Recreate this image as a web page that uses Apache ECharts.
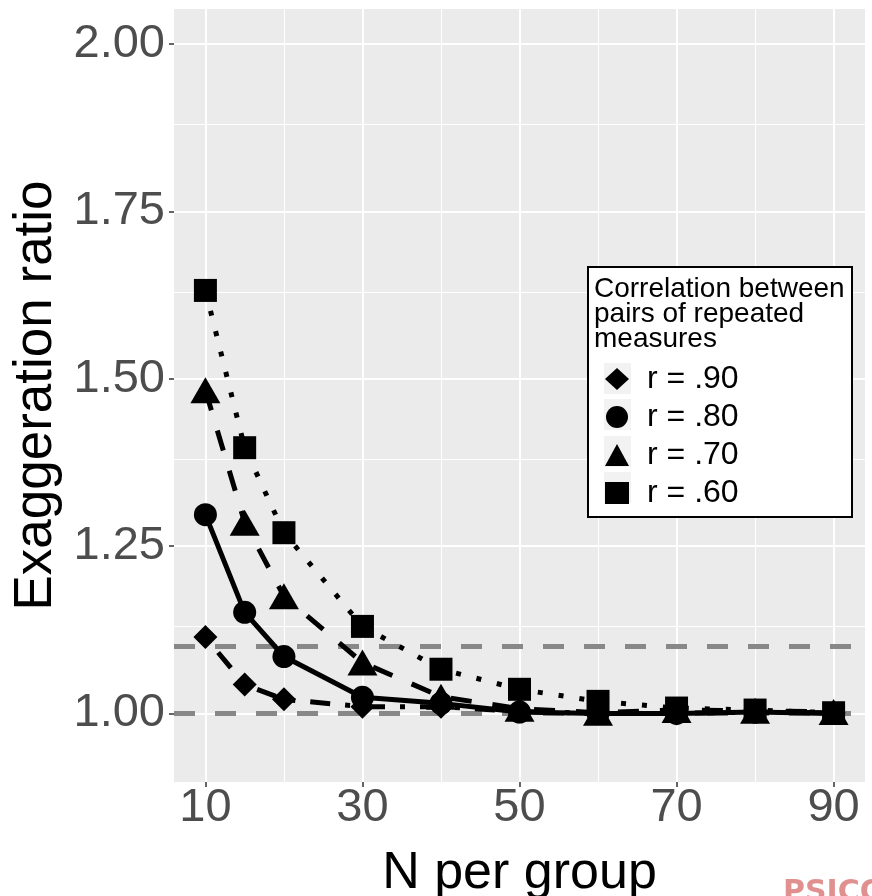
<!DOCTYPE html>
<html>
<head>
<meta charset="utf-8">
<style>
  html, body { margin: 0; padding: 0; background: #fff; }
  #chart { width: 872px; height: 896px; }
</style>
<script src="https://cdn.jsdelivr.net/npm/echarts@6/dist/echarts.min.js"></script>
</head>
<body>
<div id="chart"></div>
<script>
// N per group (x) and exaggeration ratio for each correlation level
const nGroup = [10, 15, 20, 30, 40, 50, 60, 70, 80, 90]
const r90 = [1.114, 1.043, 1.021, 1.010, 1.010, 1.003, 1.000, 1.000, 1.002, 1.001]
const r80 = [1.297, 1.151, 1.085, 1.024, 1.015, 1.002, 1.000, 1.000, 1.002, 1.000]
const r70 = [1.483, 1.285, 1.175, 1.076, 1.025, 1.007, 1.001, 1.005, 1.004, 1.002]
const r60 = [1.632, 1.397, 1.270, 1.130, 1.066, 1.036, 1.018, 1.008, 1.005, 1.001]
const seriesNames = ['r = .90', 'r = .80', 'r = .70', 'r = .60']

const xTicks = [10, 30, 50, 70, 90]
const xMinor = [20, 40, 60, 80]
const yTicks = [1.0, 1.25, 1.5, 1.75, 2.0]
const yMinor = [1.125, 1.375, 1.625, 1.875]
const refLines = [1.0, 1.1]

const legendTitle = 'Correlation between\npairs of repeated\nmeasures'

const FONT = '"Liberation Sans", Arial, sans-serif'

// marker + line type per series (ggplot: dotdash, solid, dashed, dotted)
const looks = [
  { symbol: 'diamond', size: 24, type: [5, 15, 20, 15], icon: 'diamond' },
  { symbol: 'circle', size: 23, type: 'solid', icon: 'circle' },
  { symbol: 'triangle', size: [30, 26], type: [21, 21], icon: 'triangle' },
  { symbol: 'rect', size: 23, type: [5, 16], icon: 'rect' },
]
const values = [r90, r80, r70, r60]

const pairs = (ys) => nGroup.map((n, i) => [n, ys[i]])

const chart = echarts.init(document.getElementById('chart'))

const gridLines = [
  ...xMinor.map((v) => ({ xAxis: v, lineStyle: { width: 1 } })),
  ...yMinor.map((v) => ({ yAxis: v, lineStyle: { width: 1 } })),
  ...xTicks.map((v) => ({ xAxis: v, lineStyle: { width: 2 } })),
  ...yTicks.map((v) => ({ yAxis: v, lineStyle: { width: 2 } })),
]

const dataSeries = seriesNames.map((name, i) => ({
  name, type: 'line', z: 5,
  data: pairs(values[i]),
  symbol: looks[i].symbol, symbolSize: looks[i].size,
  itemStyle: { color: '#000' },
  lineStyle: { color: '#000', width: 5, type: looks[i].type, cap: 'butt' },
  emphasis: { disabled: true },
}))

chart.setOption({
  animation: false,
  backgroundColor: '#fff',
  grid: { left: 174, right: 7, top: 9, bottom: 114, outerBoundsMode: 'none',
    show: true, backgroundColor: '#ebebeb', borderWidth: 0 },
  xAxis: {
    type: 'value', min: 6, max: 94,
    axisLine: { show: false },
    splitLine: { show: false },
    axisTick: { show: true, customValues: xTicks, length: 5, lineStyle: { color: '#333', width: 1.5 } },
    axisLabel: { customValues: xTicks, fontSize: 47, color: '#4d4d4d', fontFamily: FONT, margin: 3 },
    name: 'N per group', nameLocation: 'middle', nameGap: 66,
    nameTextStyle: { fontSize: 52, color: '#000', fontFamily: FONT },
  },
  yAxis: {
    type: 'value', min: 0.8975, max: 2.0525,
    axisLine: { show: false },
    splitLine: { show: false },
    axisTick: { show: true, customValues: yTicks, length: 5, lineStyle: { color: '#333', width: 1.5 } },
    axisLabel: { customValues: yTicks, fontSize: 47, color: '#4d4d4d', fontFamily: FONT, margin: 9,
      formatter: (v) => v.toFixed(2) },
    name: 'Exaggeration ratio', nameLocation: 'middle', nameGap: 104, nameRotate: 90,
    nameTextStyle: { fontSize: 53, color: '#000', fontFamily: FONT },
  },
  legend: {
    data: seriesNames.map((n, i) => ({ name: n, icon: looks[i].icon })),
    orient: 'vertical', left: 605, top: 363, padding: 0,
    itemWidth: 24, itemHeight: 22, itemGap: 6, z: 12,
    selectedMode: false,
    itemStyle: { color: '#000' },
    textStyle: { fontSize: 32, lineHeight: 30.5, color: '#000', fontFamily: FONT, padding: [0, 0, 0, 13] },
  },
  graphic: [
    { type: 'rect', z: 10, shape: { x: 588, y: 267, width: 264, height: 250 },
      style: { fill: '#fff', stroke: '#000', lineWidth: 2 } },
    { type: 'text', z: 11, left: 594, top: 275,
      style: { text: legendTitle, font: '28px ' + FONT, lineHeight: 25, fill: '#000' } },
    ...[363, 399, 436, 472].map((y) => ({ type: 'rect', z: 11,
      shape: { x: 604, y, width: 27, height: 31 }, style: { fill: '#f2f2f2' } })),
    { type: 'text', z: 11, left: 783, top: 878,
      style: { text: 'PSICO', font: 'bold 30px "DejaVu Sans", sans-serif', fill: 'rgba(205,70,70,0.6)' } },
  ],
  series: [
    { name: 'grid', type: 'line', z: 1, data: [], silent: true,
      markLine: { silent: true, z: 1, symbol: ['none', 'none'], label: { show: false },
        lineStyle: { color: '#fff', type: 'solid' }, data: gridLines } },
    { name: 'ref', type: 'line', z: 2, data: [], silent: true,
      markLine: { silent: true, z: 2, symbol: ['none', 'none'], label: { show: false },
        lineStyle: { color: '#888', width: 5, type: [21, 20], cap: 'butt' },
        data: refLines.map((v) => ({ yAxis: v })) } },
    ...dataSeries,
  ],
})
</script>
</body>
</html>
